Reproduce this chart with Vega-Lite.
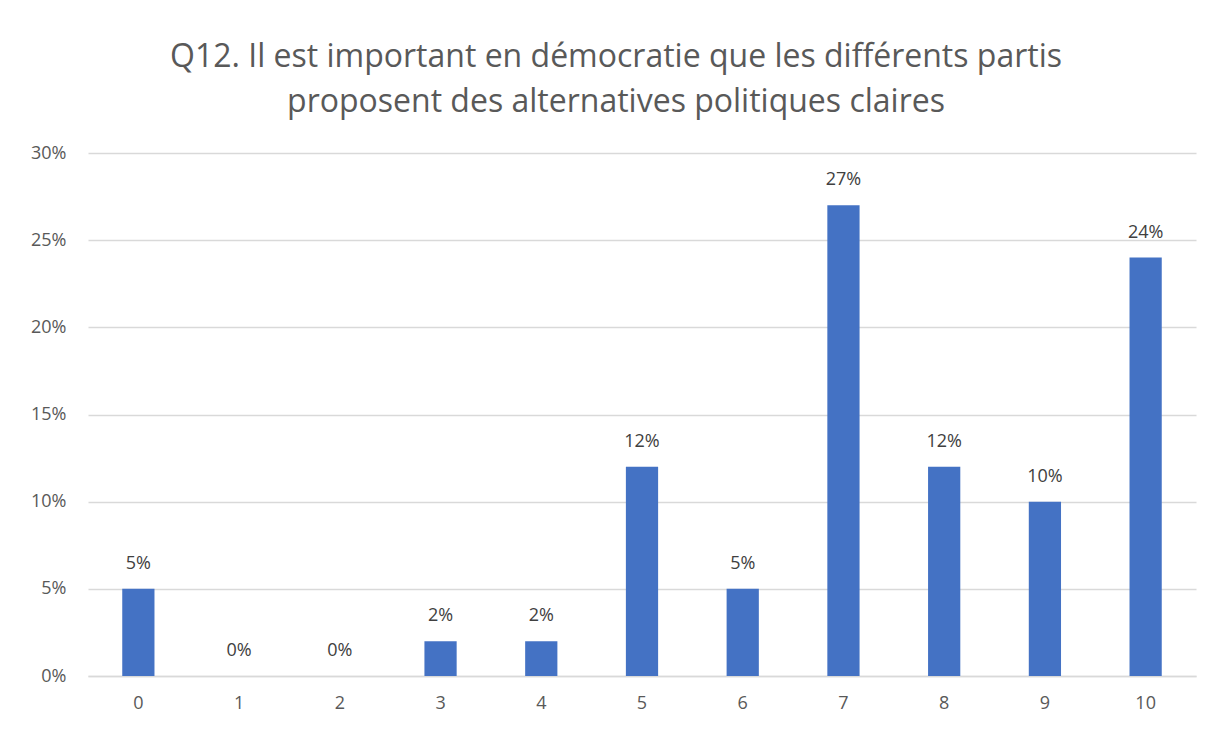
{
  "$schema": "https://vega.github.io/schema/vega-lite/v6.json",
  "autosize": {"type": "none"},
  "width": 1108,
  "height": 523,
  "padding": {"left": 88, "top": 153, "right": 25, "bottom": 53},
  "background": "white",
  "title": {
    "text": ["Q12. Il est important en démocratie que les différents partis", "proposent des alternatives politiques claires"],
    "font": "Open Sans",
    "fontSize": 32,
    "fontWeight": "normal",
    "color": "#595959",
    "anchor": "middle",
    "dx": -26,
    "offset": 25,
    "lineHeight": 45
  },
  "data": {
    "values": [
      {"note": "0", "pct": 0.05},
      {"note": "1", "pct": 0.0},
      {"note": "2", "pct": 0.0},
      {"note": "3", "pct": 0.02},
      {"note": "4", "pct": 0.02},
      {"note": "5", "pct": 0.12},
      {"note": "6", "pct": 0.05},
      {"note": "7", "pct": 0.27},
      {"note": "8", "pct": 0.12},
      {"note": "9", "pct": 0.10},
      {"note": "10", "pct": 0.24}
    ]
  },
  "encoding": {
    "x": {
      "field": "note",
      "type": "ordinal",
      "sort": null,
      "scale": {"paddingInner": 0.68, "paddingOuter": 0.34},
      "axis": {
        "title": null,
        "labelAngle": 0,
        "labelFont": "Open Sans",
        "labelFontSize": 18,
        "labelColor": "#595959",
        "ticks": false,
        "labelPadding": 18,
        "domainColor": "#d9d9d9",
        "domainWidth": 1.5
      }
    },
    "y": {
      "field": "pct",
      "type": "quantitative",
      "scale": {"domain": [0, 0.3]},
      "axis": {
        "title": null,
        "format": ".0%",
        "values": [0, 0.05, 0.1, 0.15, 0.2, 0.25, 0.3],
        "labelFont": "Open Sans",
        "labelFontSize": 18,
        "labelColor": "#595959",
        "ticks": false,
        "domain": false,
        "labelPadding": 22,
        "gridColor": "#d9d9d9",
        "gridWidth": 1.5
      }
    }
  },
  "layer": [
    {"mark": {"type": "bar", "color": "#4472c4"}},
    {
      "mark": {"type": "text", "dy": -25, "font": "Open Sans", "fontSize": 18, "color": "#404040"},
      "encoding": {"text": {"field": "pct", "format": ".0%"}}
    }
  ],
  "config": {"view": {"stroke": null}}
}
